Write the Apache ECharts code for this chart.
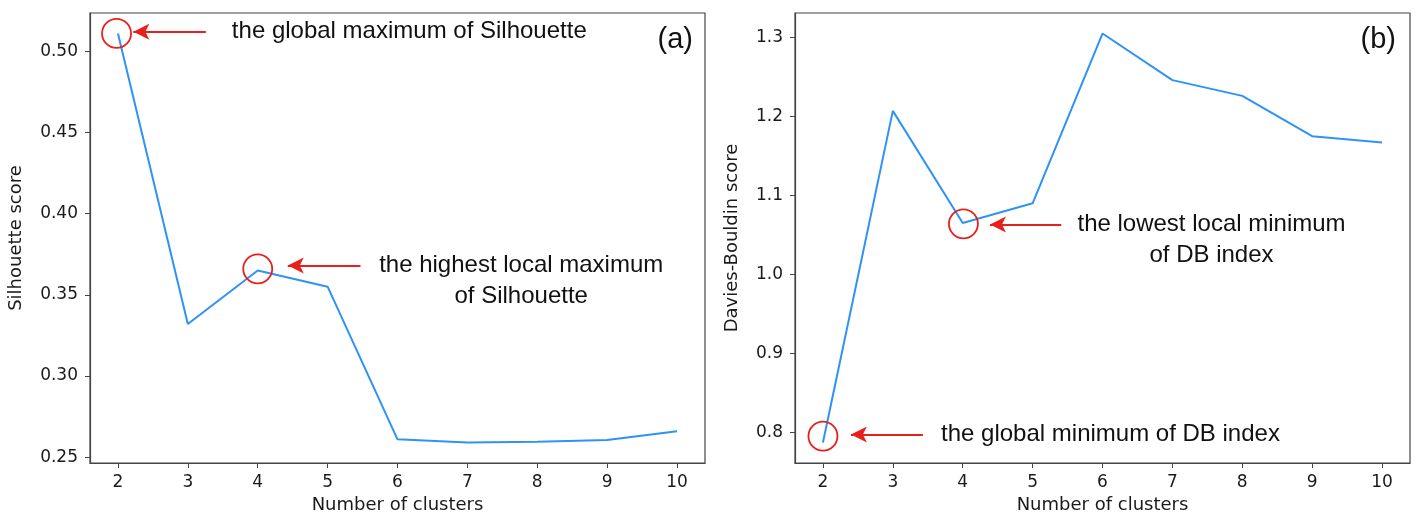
<!DOCTYPE html>
<html>
<head>
<meta charset="utf-8">
<script src="https://cdn.jsdelivr.net/npm/echarts@6/dist/echarts.min.js"></script>
<style>
  html,body{margin:0;padding:0;background:#fff;}
  #chart{width:1418px;height:515px;}
</style>
</head>
<body>
<div id="chart"></div>
<script>
// number of clusters
const clusters = [2, 3, 4, 5, 6, 7, 8, 9, 10];
// panel (a) silhouette score
const silhouette = [0.511, 0.332, 0.365, 0.355, 0.261, 0.259, 0.2595, 0.2605, 0.266];
// panel (b) Davies-Bouldin score
const daviesBouldin = [0.787, 1.207, 1.065, 1.090, 1.305, 1.246, 1.226, 1.175, 1.167];

const xTicks = [2, 3, 4, 5, 6, 7, 8, 9, 10];
const silTicks = [0.25, 0.30, 0.35, 0.40, 0.45, 0.50];
const dbTicks = [0.8, 0.9, 1.0, 1.1, 1.2, 1.3];

// annotations, in data coordinates
const silCircles = [[1.98, 0.511], [4, 0.366]];
const silArrows = [[[3.257, 0.512], [2.22, 0.512]], [[5.47, 0.368], [4.43, 0.368]]];
const silNotes = [
  {coord: [3.63, 0.512], text: 'the global maximum of Silhouette', align: 'left'},
  {coord: [7.77, 0.3587], text: 'the highest local maximum\nof Silhouette', align: 'center'}
];
const dbCircles = [[4.01, 1.064], [2.0, 0.795]];
const dbArrows = [[[5.41, 1.063], [4.39, 1.063]], [[3.43, 0.797], [2.4, 0.797]]];
const dbNotes = [
  {coord: [7.56, 1.0436], text: 'the lowest local minimum\nof DB index', align: 'center'},
  {coord: [3.69, 0.797], text: 'the global minimum of DB index', align: 'left'}
];

const chart = echarts.init(document.getElementById('chart'));
const tickFont = {fontFamily: 'DejaVu Sans', fontSize: 17, color: '#1a1a1a'};
const axisCol = '#444';
const red = '#e8201c';

function xAx(idx){
  return {
    type: 'value', gridIndex: idx, min: 1.6, max: 10.4,
    name: 'Number of clusters', nameLocation: 'middle', nameGap: 33,
    nameTextStyle: {fontFamily: 'DejaVu Sans', fontSize: 18, color: '#1a1a1a'},
    axisLine: {lineStyle: {color: axisCol, width: 1.2}},
    axisTick: {customValues: xTicks, length: 5, lineStyle: {color: axisCol}},
    axisLabel: Object.assign({customValues: xTicks, margin: 11}, tickFont),
    splitLine: {show: false}
  };
}
function yAx(idx, min, max, ticks, name, digits, gap){
  return {
    type: 'value', gridIndex: idx, min: min, max: max,
    name: name, nameLocation: 'middle', nameGap: gap, nameRotate: 90,
    nameTextStyle: {fontFamily: 'DejaVu Sans', fontSize: 18, color: '#1a1a1a'},
    axisLine: {show: true, lineStyle: {color: axisCol, width: 1.2}},
    axisTick: {show: true, customValues: ticks, length: 5, lineStyle: {color: axisCol}},
    axisLabel: Object.assign({customValues: ticks, margin: 12,
      formatter: v => Number(v).toFixed(digits)}, tickFont),
    splitLine: {show: false}
  };
}

function circles(list){
  return list.map(c => ({coord: c, symbol: 'circle', symbolSize: 29,
    itemStyle: {color: 'rgba(0,0,0,0)', borderColor: red, borderWidth: 1.8},
    label: {show: false}}));
}
function notes(list){
  return list.map(n => ({coord: n.coord, symbol: 'circle', symbolSize: 0,
    itemStyle: {color: 'rgba(0,0,0,0)'},
    label: {show: true, formatter: n.text, position: n.align === 'left' ? 'right' : 'inside',
      distance: 0, align: n.align, verticalAlign: 'middle',
      fontFamily: 'Liberation Sans', fontSize: 24, lineHeight: 31, color: '#111'}}));
}
function arrows(list){
  return list.map(a => [{coord: a[0]}, {coord: a[1]}]);
}

function series(idx, data, circ, arr, nts){
  return {
    type: 'line', xAxisIndex: idx, yAxisIndex: idx,
    data: clusters.map((c, i) => [c, data[i]]),
    showSymbol: false, symbol: 'none',
    lineStyle: {color: '#2f92f5', width: 2},
    markPoint: {silent: true, animation: false, data: circles(circ).concat(notes(nts))},
    markLine: {silent: true, animation: false, symbol: ['none', 'arrow'], symbolSize: [12, 16],
      lineStyle: {color: red, width: 2, type: 'solid'},
      label: {show: false}, data: arrows(arr)},
    animation: false
  };
}

chart.setOption({
  animation: false,
  grid: [
    {left: 90, right: 713, top: 13, bottom: 52, outerBoundsMode: 'none', containLabel: false,
      show: true, borderColor: axisCol, borderWidth: 1.2},
    {left: 795, right: 8, top: 13, bottom: 52, outerBoundsMode: 'none', containLabel: false,
      show: true, borderColor: axisCol, borderWidth: 1.2}
  ],
  xAxis: [xAx(0), xAx(1)],
  yAxis: [
    yAx(0, 0.2464, 0.5236, silTicks, 'Silhouette score', 2, 65),
    yAx(1, 0.761, 1.331, dbTicks, 'Davies-Bouldin score', 1, 54)
  ],
  series: [
    series(0, silhouette, silCircles, silArrows, silNotes),
    series(1, daviesBouldin, dbCircles, dbArrows, dbNotes)
  ],
  title: [
    {text: '(a)', right: 1418 - 698, top: 20, textStyle: {fontFamily: 'Liberation Sans', fontSize: 29, fontWeight: 'normal', color: '#111'}},
    {text: '(b)', right: 1418 - 1401, top: 20, textStyle: {fontFamily: 'Liberation Sans', fontSize: 29, fontWeight: 'normal', color: '#111'}}
  ]
});
window.addEventListener('resize', function(){ chart.resize(); });
</script>
</body>
</html>
